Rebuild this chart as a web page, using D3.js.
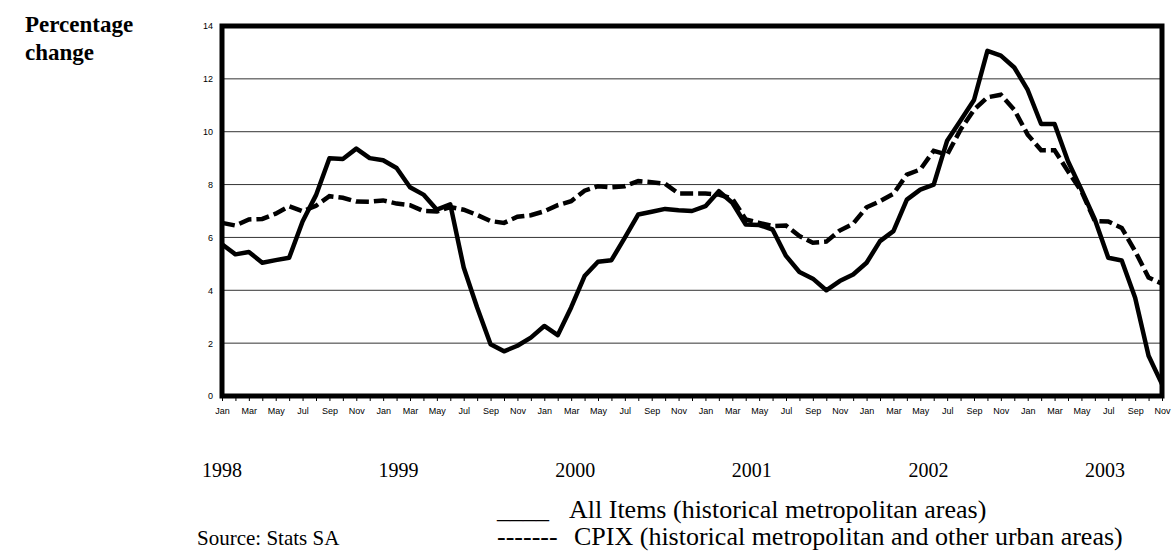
<!DOCTYPE html>
<html>
<head>
<meta charset="utf-8">
<script src="https://cdn.jsdelivr.net/npm/d3@7"></script>
<style>
    body { margin: 0; background: #fff; }
    svg { display: block; }
</style>
</head>
<body>
<div id="chart"></div>
<script>
// Month labels, year labels
const monthNames = ["Jan", "Feb", "Mar", "Apr", "May", "Jun", "Jul", "Aug", "Sep", "Oct", "Nov", "Dec"];
const years = ["1998", "1999", "2000", "2001", "2002", "2003"];
const yTicks = [0, 2, 4, 6, 8, 10, 12, 14];

// All Items (historical metropolitan areas), Jan 1998 - Nov 2003
const allItems = [
    5.74, 5.36, 5.45, 5.04, 5.14, 5.23, 6.6, 7.6, 9.0, 8.97, 9.36, 9.0,
    8.92, 8.63, 7.9, 7.62, 7.05, 7.25, 4.86, 3.35, 1.96, 1.69, 1.9, 2.21,
    2.65, 2.3, 3.35, 4.54, 5.08, 5.14, 5.99, 6.87, 6.97, 7.08, 7.03, 7.0,
    7.18, 7.75, 7.31, 6.49, 6.47, 6.3, 5.3, 4.69, 4.44, 4.0, 4.35, 4.6,
    5.04, 5.86, 6.24, 7.43, 7.81, 8.0, 9.66, 10.42, 11.2, 13.06, 12.88, 12.43,
    11.58, 10.29, 10.29, 8.88, 7.81, 6.68, 5.23, 5.13, 3.72, 1.52, 0.45
];
// CPIX (historical metropolitan and other urban areas)
const cpix = [
    6.55, 6.45, 6.68, 6.7, 6.9, 7.18, 6.99, 7.2, 7.56, 7.5, 7.36, 7.35,
    7.4, 7.28, 7.22, 7.0, 6.98, 7.15, 7.05, 6.85, 6.62, 6.55, 6.78, 6.84,
    6.99, 7.22, 7.37, 7.77, 7.94, 7.9, 7.94, 8.13, 8.09, 8.03, 7.66, 7.66,
    7.66, 7.62, 7.47, 6.68, 6.55, 6.43, 6.45, 6.05, 5.8, 5.84, 6.26, 6.52,
    7.14, 7.37, 7.65, 8.38, 8.57, 9.28, 9.13, 10.08, 10.83, 11.3, 11.4, 10.83,
    9.89, 9.3, 9.3, 8.5, 7.75, 6.62, 6.6, 6.36, 5.48, 4.48, 4.25
];
const legendLabels = ["All Items (historical metropolitan areas)", "CPIX (historical metropolitan and other urban areas)"];

const W = 1171, H = 551;
const m = { top: 26, right: 9, bottom: 155, left: 222 };
const sans = "Arial, 'Liberation Sans', sans-serif";
const serif = "'Liberation Serif', 'Times New Roman', serif";

const svg = d3.select("#chart")
    .append("svg")
    .attr("width", W)
    .attr("height", H);

// Scales
const x = d3.scaleLinear().domain([0, allItems.length - 1]).range([m.left, W - m.right]);
const y = d3.scaleLinear().domain([0, 14]).range([H - m.bottom, m.top]);

// Grid lines
svg.append("g")
    .selectAll("line")
    .data(yTicks.filter(d => d > 0 && d < 14))
    .join("line")
    .attr("x1", x(0))
    .attr("x2", x(allItems.length - 1))
    .attr("y1", d => y(d))
    .attr("y2", d => y(d))
    .attr("stroke", "#333")
    .attr("stroke-width", 1);

// Y-axis labels
svg.append("g")
    .attr("transform", `translate(${m.left - 9}, 0)`)
    .call(d3.axisLeft(y).tickValues(yTicks).tickSize(0).tickPadding(0))
    .call(g => g.select(".domain").remove())
    .selectAll("text")
    .attr("font-family", sans)
    .attr("font-size", 9)
    .attr("fill", "#000");

// X-axis (month ticks)
const idx = d3.range(allItems.length);
svg.append("g")
    .attr("transform", `translate(0, ${y(0) + 2})`)
    .call(d3.axisBottom(x).tickValues(idx).tickSize(3).tickPadding(7)
        .tickFormat(i => i % 2 === 0 ? monthNames[i % 12] : ""))
    .call(g => g.select(".domain").remove())
    .call(g => g.selectAll("line").attr("stroke", "#000"))
    .selectAll("text")
    .attr("font-family", sans)
    .attr("font-size", 9)
    .attr("fill", "#000");

// Lines
const line = d3.line()
    .x((d, i) => x(i))
    .y(d => y(d));

svg.append("path")
    .datum(cpix)
    .attr("d", line)
    .attr("fill", "none")
    .attr("stroke", "#000")
    .attr("stroke-width", 4.5)
    .attr("stroke-dasharray", "13,5");

svg.append("path")
    .datum(allItems)
    .attr("d", line)
    .attr("fill", "none")
    .attr("stroke", "#000")
    .attr("stroke-width", 4.5)
    .attr("stroke-linejoin", "round");

// Frame
svg.append("rect")
    .attr("x", x(0))
    .attr("y", y(14))
    .attr("width", x(allItems.length - 1) - x(0))
    .attr("height", y(0) - y(14))
    .attr("fill", "none")
    .attr("stroke", "#000")
    .attr("stroke-width", 5);

// Axis title
svg.append("g")
    .selectAll("text")
    .data(["Percentage", "change"])
    .join("text")
    .attr("x", 25)
    .attr("y", (d, i) => 32 + i * 28)
    .attr("font-family", serif)
    .attr("font-weight", "bold")
    .attr("font-size", 23)
    .text(d => d);

// Year labels
const yearX = d3.scaleLinear().domain([0, years.length - 1]).range([222, 1105]);
svg.append("g")
    .selectAll("text")
    .data(years)
    .join("text")
    .attr("x", (d, i) => yearX(i))
    .attr("y", 477)
    .attr("text-anchor", "middle")
    .attr("font-family", serif)
    .attr("font-size", 20)
    .text(d => d);

// Legend
const legend = svg.append("g")
    .attr("font-family", serif)
    .attr("font-size", 26);
legend.append("text").attr("x", 497).attr("y", 518).text("____");
legend.append("text").attr("x", 569).attr("y", 518).text(legendLabels[0]);
legend.append("text").attr("x", 497).attr("y", 545).text("-------");
legend.append("text").attr("x", 574).attr("y", 545).text(legendLabels[1]);

svg.append("text")
    .attr("x", 197)
    .attr("y", 545)
    .attr("font-family", serif)
    .attr("font-size", 21)
    .text("Source: Stats SA");
</script>
</body>
</html>
